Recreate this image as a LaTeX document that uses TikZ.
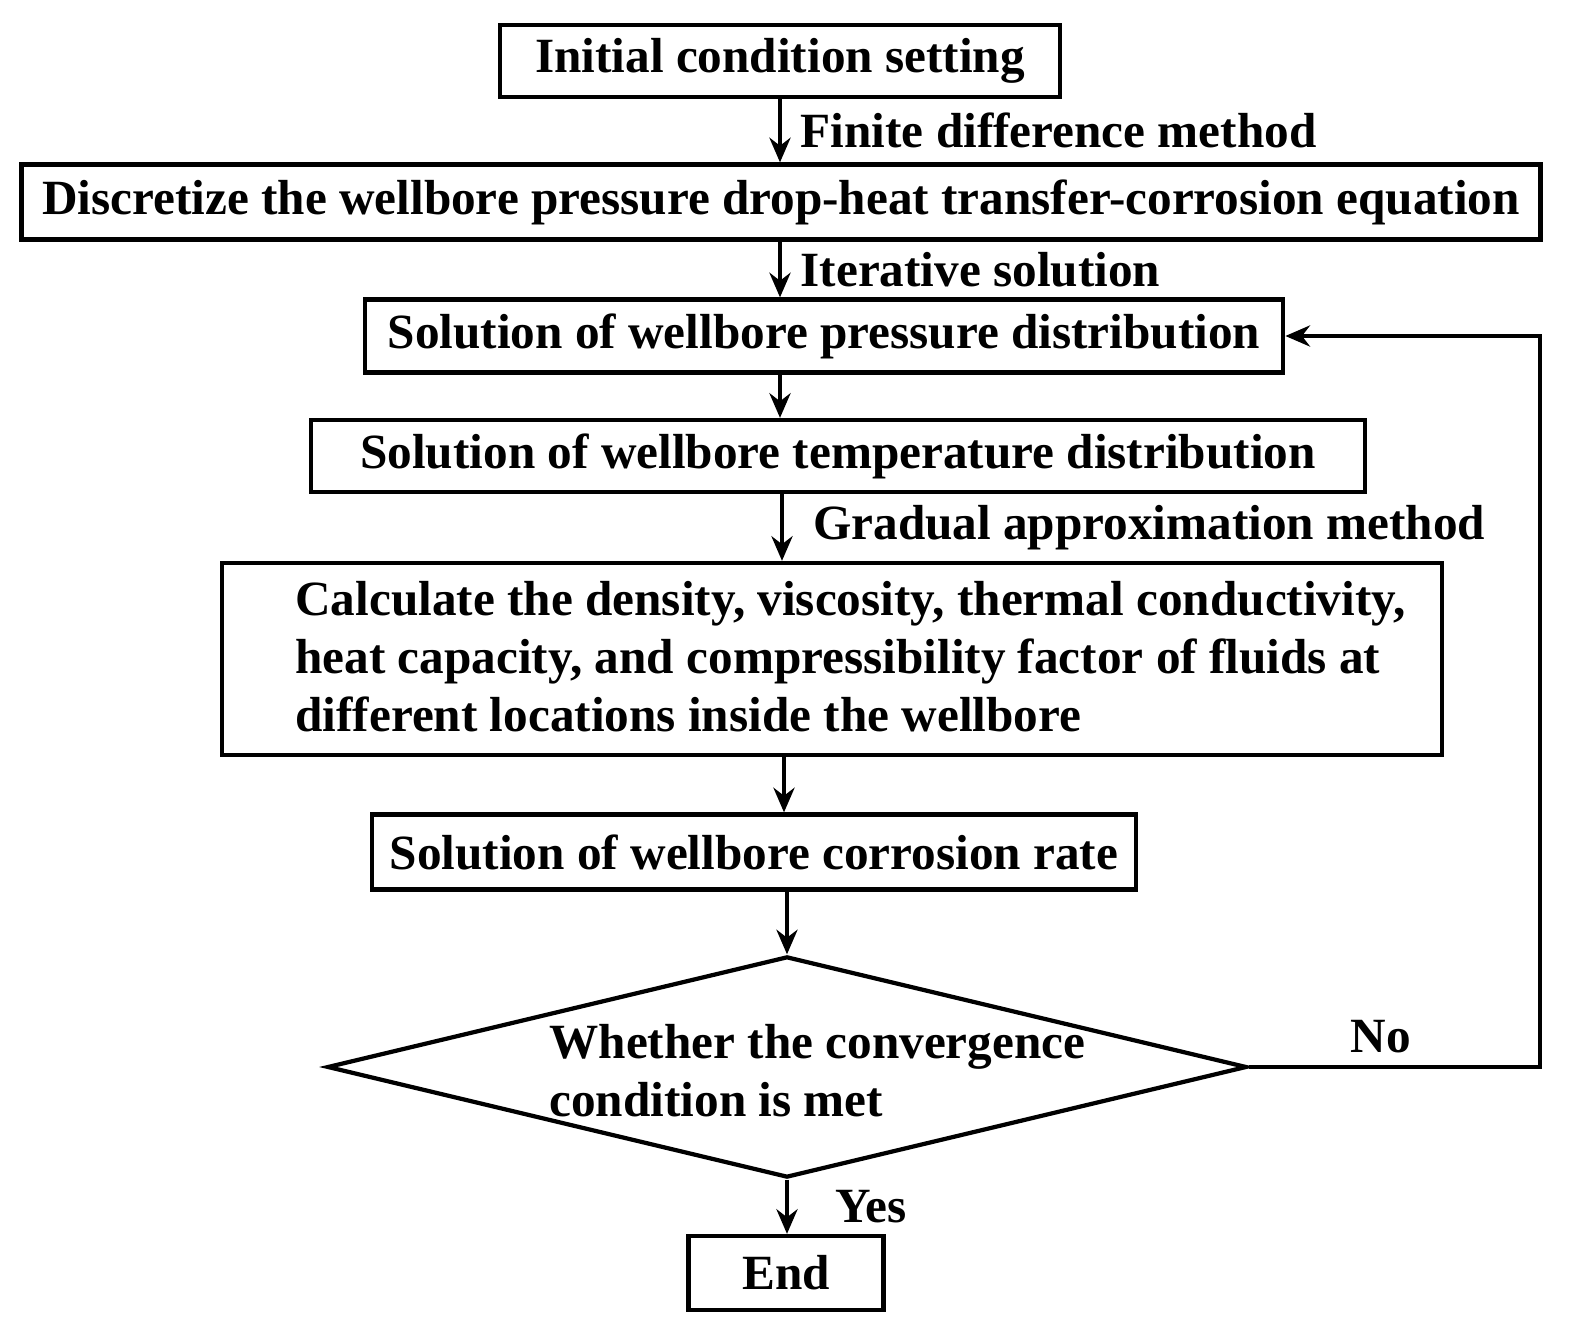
\documentclass[tikz,border=0pt]{standalone}
\usepackage{fontspec}
\setmainfont{Liberation Serif}
\usetikzlibrary{shapes.geometric,arrows.meta}
\begin{document}
\begin{tikzpicture}[x=0.01cm,y=-0.01cm,
    font=\fontsize{14}{16.5}\selectfont\bfseries,
    box/.style={draw, line width=1.2pt, inner sep=0pt},
    arr/.style={-{Stealth[length=7pt,width=6pt]}, line width=1.1pt}]
\useasboundingbox (0,0) rectangle (1581,1343);
\node[box, minimum width=5.60cm, minimum height=0.72cm] (init) at (780,61) {Initial condition setting};
\node[box, minimum width=15.18cm, minimum height=0.75cm] (disc) at (781,202) {Discretize the wellbore pressure drop-heat transfer-corrosion equation};
\node[box, minimum width=9.18cm, minimum height=0.73cm] (pres) at (824,336) {Solution of wellbore pressure distribution};
\node[box, minimum width=10.53cm, minimum height=0.72cm] (temp) at (838,456) {Solution of wellbore temperature distribution};
\node[box, minimum width=12.20cm, minimum height=1.92cm] (calc) at (832,659) {};
\node[anchor=west, align=left] (calctext) at (283,657)
  {Calculate the density, viscosity, thermal conductivity,\\heat capacity, and compressibility factor of fluids at\\different locations inside the wellbore};
\node[box, minimum width=7.64cm, minimum height=0.75cm] (corr) at (754,852) {Solution of wellbore corrosion rate};
\node[draw, line width=1.2pt, diamond, aspect=4.16, minimum width=9.19cm, minimum height=2.21cm, inner sep=0pt] (conv) at (787,1067) {};
\node[anchor=west, align=left] (convtext) at (537,1071) {Whether the convergence\\condition is met};
\node[box, minimum width=1.95cm, minimum height=0.74cm] (end) at (786,1273) {End};
\coordinate (back) at (1540,1067);
% flow
\draw[arr] (init.south -| 780,0) -- (disc.north -| 780,0) node[midway, right=2pt] (fdm) {Finite difference method};
\draw[arr] (disc.south -| 780,0) -- (pres.north -| 780,0) node[midway, right=2pt] (iter) {Iterative solution};
\draw[arr] (pres.south -| 780,0) -- (temp.north -| 780,0);
\draw[arr] (temp.south -| 782,0) -- (calc.north -| 782,0) node[midway, right=5pt] (grad) {Gradual approximation method};
\draw[arr] (calc.south -| 784,0) -- (corr.north -| 784,0);
\draw[arr] (corr.south -| 787,0) -- (conv.north);
\draw[arr] (conv.south) -- (end.north -| 787,0) node[midway, right=10pt] (yes) {Yes};
\draw[arr] (conv.east) -- (back) |- (pres.east);
\node (no) at (1381,1037) {No};
\end{tikzpicture}
\end{document}
